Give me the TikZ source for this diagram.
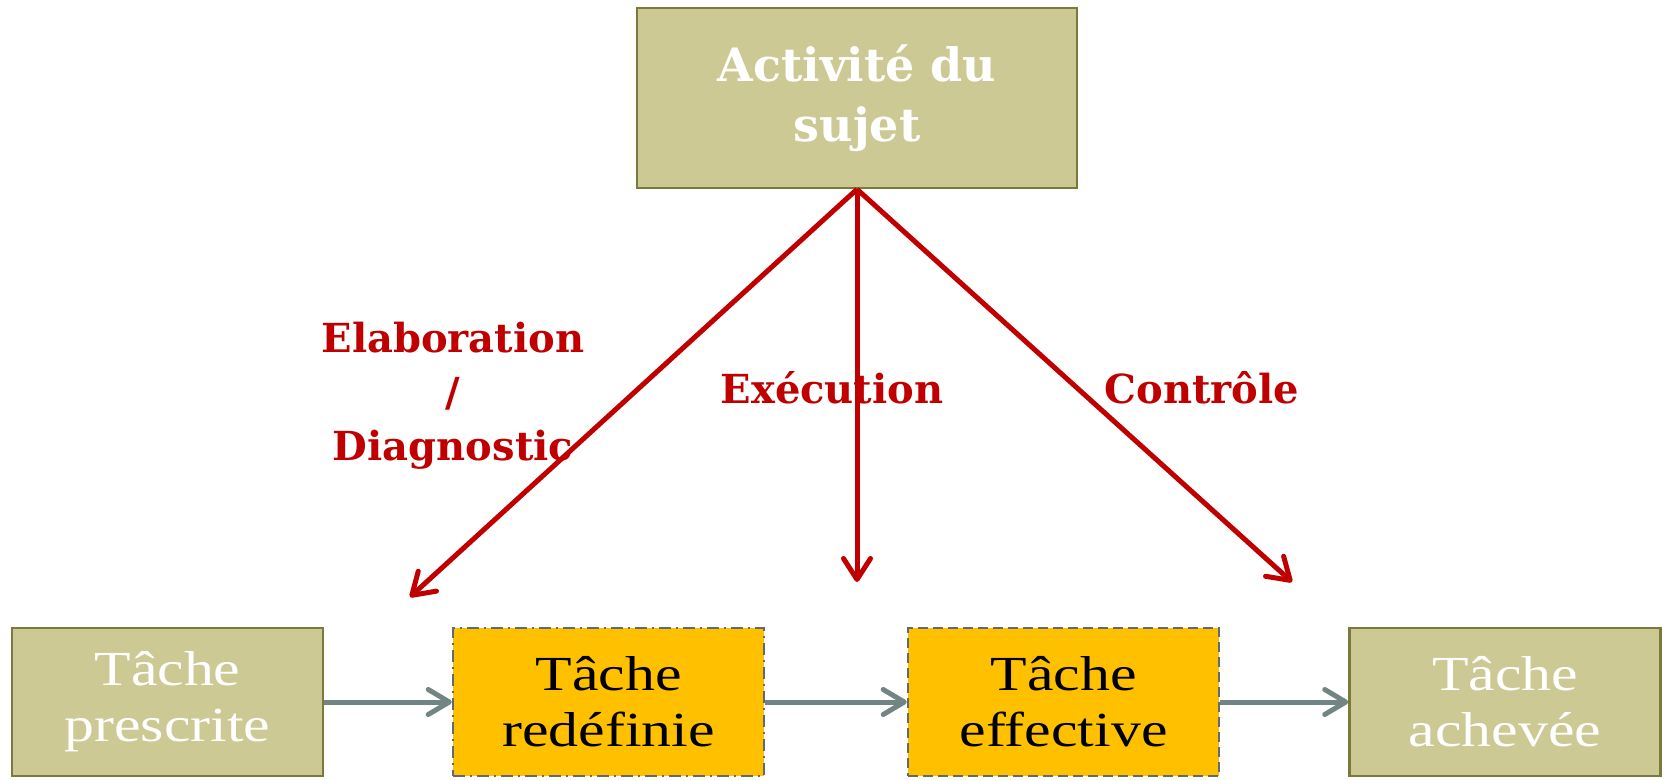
\documentclass[tikz,border=0pt]{standalone}
\usepackage{fontspec}
\usetikzlibrary{arrows.meta}
\newfontfamily\labfont{DejaVu Serif}
\newfontfamily\boxfont{Liberation Serif}[FakeStretch=1.22]
\definecolor{olivefill}{HTML}{CCC994}
\definecolor{olivedraw}{HTML}{7A7A3C}
\definecolor{yellowfill}{HTML}{FFC000}
\definecolor{slate}{HTML}{5F6B6D}
\definecolor{arrowgray}{HTML}{728484}
\definecolor{darkred}{HTML}{C00000}
\tikzset{
  olivebox/.style={draw=olivedraw, fill=olivefill, line width=2.5pt, inner sep=0pt},
  taskbox/.style={olivebox, minimum width=311pt, minimum height=148pt,
    text=white, align=center, font=\boxfont\fontsize{49}{56}\selectfont},
  yellowbox/.style={taskbox, draw=slate, fill=yellowfill, text=black},
  redarrow/.style={draw=darkred, line width=5pt,
    -{Straight Barb[length=21pt,width=27pt,line cap=round,line join=round]}},
  grayarrow/.style={draw=arrowgray, line width=5pt,
    -{Straight Barb[length=21pt,width=25pt,line cap=round,line join=round]}},
  redlabel/.style={text=darkred, align=center, inner sep=0pt,
    font=\labfont\bfseries\fontsize{40}{54}\selectfont}
}
\begin{document}
\begin{tikzpicture}[x=1pt,y=-1pt]
\useasboundingbox (0,0) rectangle (1665,779);
\node[olivebox, minimum width=440pt, minimum height=180pt, text=white,
  align=center, font=\labfont\bfseries\fontsize{46}{60}\selectfont] (top) at (857,98) {Activit\'e du\\sujet};
\node[taskbox] (p) at (167.5,702) {T\^ache\\prescrite};
\node[yellowbox, dash pattern=on 12pt off 5pt on 2pt off 5pt] (r) at (608.5,702) {T\^ache\\red\'efinie};
\node[yellowbox, dash pattern=on 10pt off 5pt] (e) at (1063.5,702) {T\^ache\\effective};
\node[taskbox] (a) at (1505,702) {T\^ache\\achev\'ee};
\coordinate (tl) at (410,597);
\coordinate (tm) at (857,582);
\coordinate (tr) at (1292,582);
\draw[redarrow] (top.south) -- (tl);
\draw[redarrow] (top.south) -- (tm);
\draw[redarrow] (top.south) -- (tr);
\draw[grayarrow] (p.east) -- (r.west);
\draw[grayarrow] (r.east) -- (e.west);
\draw[grayarrow] (e.east) -- (a.west);
\node[redlabel] (lab1) at (453,396) {Elaboration\\/\\Diagnostic};
\node[redlabel, anchor=base] (lab2) at (832,403) {Ex\'ecution};
\node[redlabel, anchor=base] (lab3) at (1202,403) {Contr\^ole};
\end{tikzpicture}
\end{document}
